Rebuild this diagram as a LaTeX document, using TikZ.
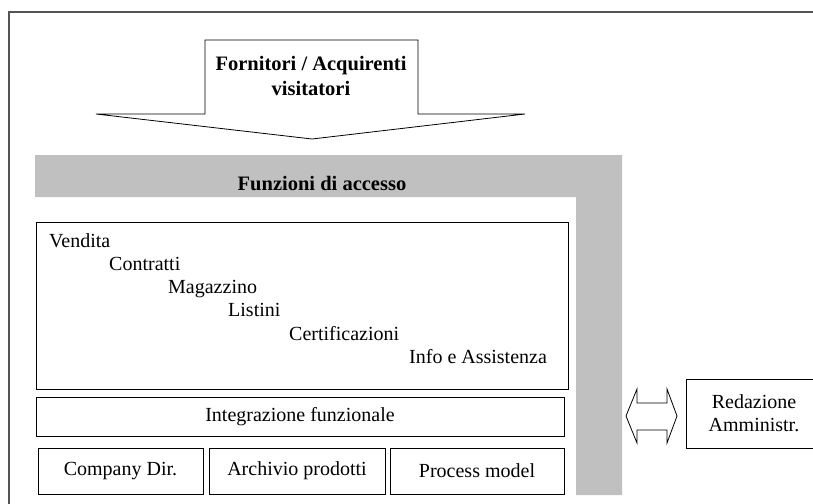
\documentclass[tikz,border=0pt]{standalone}
\usepackage{fontspec}
\setmainfont{Liberation Serif}
\usetikzlibrary{positioning}

\definecolor{bandgrey}{RGB}{192,192,192}
\definecolor{framegrey}{RGB}{85,85,85}

\begin{document}
\begin{tikzpicture}[x=1pt, y=-1pt,
		box/.style={draw, thick, fill=white, inner sep=0pt, font=\fontsize{20}{23}\selectfont},
		voce/.style={anchor=base west, inner sep=0pt, font=\fontsize{20}{23}\selectfont}]
			\useasboundingbox (0,0) rectangle (813,503);
			\begin{scope}
				\clip (0,0) rectangle (813,503);

				% cornice esterna
				\draw[framegrey, line width=1.8pt] (9,520) -- (9,12) -- (830,12);

				% freccia in ingresso
				\draw[thick, fill=white] (205,40) -- (418,40) -- (418,114) -- (525,114) -- (312,139)
					-- (96,114) -- (205,114) -- cycle;
				\node (utenti) [align=center, inner sep=0pt, font=\bfseries\fontsize{20.5}{25}\selectfont] at (311,76) {Fornitori / Acquirenti\\visitatori};

				% banda grigia a L
				\fill[bandgrey] (35,155) -- (622,155) -- (622,495) -- (576,495) -- (576,197) -- (35,197) -- cycle;
				\node (accesso) [inner sep=0pt, font=\bfseries\fontsize{20.5}{23}\selectfont] at (322,184) {Funzioni di accesso};

				% moduli applicativi
				\node (moduli) [box, minimum width=532pt, minimum height=167pt] at (302,305.5) {};
				\node (vendita) [voce] at (49,247) {Vendita};
				\node (contratti) [voce] at (109,270) {Contratti};
				\node (magazzino) [voce] at (168,293) {Magazzino};
				\node (listini) [voce] at (228,316) {Listini};
				\node (certif) [voce] at (289,340) {Certificazioni};
				\node (info) [voce] at (409,363) {Info e Assistenza};

				\node (integr) [box, minimum width=528pt, minimum height=39pt] at (300,416.5) {Integrazione funzionale};

				\node (company) [box, minimum width=165pt, minimum height=46pt] at (120.5,471) {Company Dir.};
				\node (archivio) [box, minimum width=176pt, minimum height=46pt] at (297,471) {Archivio prodotti};
				\node (process) [box, minimum width=174pt, minimum height=46pt] at (477,471) {Process model};

				% redazione
				\node (redaz) [box, align=center, minimum width=136pt, minimum height=69pt] at (754,413.5) {Redazione\\Amministr.};

				% freccia doppia
				\draw[thick, fill=white] (626,416) -- (637,389) -- (637,403) -- (667,403) -- (667,389) -- (677,416)
					-- (667,443) -- (667,430) -- (637,430) -- (637,443) -- cycle;
			\end{scope}
		\end{tikzpicture}
\end{document}
